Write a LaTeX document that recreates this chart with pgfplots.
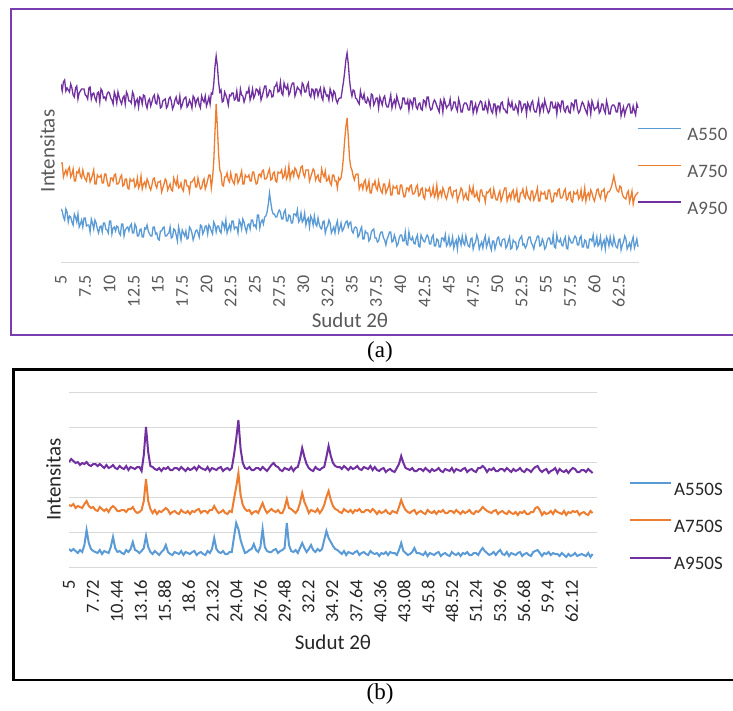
\documentclass[border=0pt]{standalone}
\usepackage{fontspec}
\setmainfont{Carlito}
\newfontfamily\capfont{Liberation Serif}
\usepackage{pgfplots}
\usepackage{pgfplotstable}
\pgfplotsset{compat=1.18}

\definecolor{serblue}{HTML}{5B9BD5}
\definecolor{serorange}{HTML}{ED7D31}
\definecolor{serpurple}{HTML}{7030A0}
\definecolor{framepurple}{HTML}{7A3DB0}
\definecolor{gridgray}{HTML}{D9D9D9}
\definecolor{labgray}{HTML}{595959}
\definecolor{labdark}{HTML}{262626}

% panel (a): A550, A750, A950
\pgfplotstableread{
x b o p
5.00 53 99 178
5.125 51 99 171
5.25 45 85 180
5.375 42 89 182
5.50 53 92 171
5.625 50 87 174
5.75 40 93 172
5.875 46 95 170
6.00 45 85 178
6.125 40 88 174
6.25 37 93 167
6.375 48 81 165
6.50 45 81 174
6.625 40 90 176
6.75 48 89 163
6.875 35 93 169
7.00 38 86 171
7.125 42 84 173
7.25 35 92 173
7.375 44 86 173
7.50 44 83 167
7.625 36 81 166
7.75 37 89 163
7.875 37 89 174
8.00 30 80 175
8.125 43 83 163
8.25 39 87 168
8.375 33 92 169
8.50 42 78 164
8.625 39 78 161
8.75 33 87 169
8.875 29 85 170
9.00 35 85 160
9.125 36 87 173
9.25 30 79 171
9.375 39 79 164
9.50 39 88 165
9.625 33 88 162
9.75 32 81 168
9.875 29 76 170
10.00 41 76 169
10.125 41 84 164
10.25 28 84 162
10.375 34 81 158
10.50 35 87 170
10.625 31 88 166
10.75 36 78 159
10.875 35 78 170
11.00 29 80 165
11.125 27 85 161
11.25 38 87 158
11.375 38 76 164
11.50 26 77 166
11.625 32 83 158
11.75 34 83 170
11.875 35 74 167
12.00 31 73 161
12.125 36 83 161
12.25 38 81 159
12.375 29 81 170
12.50 29 83 167
12.625 38 75 156
12.75 35 77 161
12.875 26 84 163
13.00 26 74 155
13.125 32 77 165
13.25 33 86 164
13.375 25 73 158
13.50 25 78 167
13.625 34 80 166
13.75 33 75 158
13.875 37 83 154
14.00 31 80 161
14.125 28 75 163
14.25 26 72 156
14.375 26 77 160
14.50 35 83 165
14.625 35 84 167
14.75 28 77 159
14.875 29 74 158
15.00 23 80 167
15.125 22 80 164
15.25 31 81 154
15.375 31 70 155
15.50 34 74 161
15.625 35 78 162
15.75 26 83 163
15.875 26 81 154
16.00 28 72 156
16.125 29 75 163
16.25 35 78 165
16.375 24 72 161
16.50 25 71 153
16.625 33 84 156
16.75 32 80 162
16.875 27 77 165
17.00 21 84 159
17.125 35 74 158
17.25 29 75 166
17.375 22 79 154
17.50 32 73 157
17.625 29 71 162
17.75 26 82 164
17.875 31 82 165
18.00 23 76 155
18.125 24 76 157
18.25 35 70 162
18.375 33 80 159
18.50 29 80 154
18.625 22 82 166
18.75 26 84 164
18.875 31 75 157
19.00 32 75 162
19.125 29 84 164
19.25 25 78 157
19.375 37 73 154
19.50 36 74 166
19.625 28 80 162
19.75 31 83 160
19.875 36 73 166
20.00 36 77 156
20.125 28 82 160
20.25 37 87 165
20.375 35 87 158
20.50 31 74 169
20.625 28 84 168
20.75 40 100 178
20.875 37 130 195
21.00 30 158 206
21.125 36 135 196
21.25 36 108 180
21.375 31 92 170
21.50 29 89 172
21.625 40 77 160
21.75 38 76 161
21.875 33 85 170
22.00 42 85 167
22.125 29 89 163
22.25 33 82 157
22.375 37 80 167
22.50 32 89 166
22.625 41 83 169
22.75 41 80 169
22.875 33 78 162
23.00 35 88 163
23.125 35 88 171
23.25 29 79 161
23.375 42 82 161
23.50 39 86 173
23.625 33 91 167
23.75 43 78 166
23.875 40 78 160
24.00 34 87 164
24.125 30 85 170
24.25 37 85 169
24.375 38 87 174
24.50 33 81 162
24.625 42 81 166
24.75 42 90 173
24.875 36 90 164
25.00 37 83 167
25.125 34 78 173
25.25 47 79 172
25.375 47 87 168
25.50 34 88 173
25.625 40 85 162
25.75 42 91 166
25.875 38 92 171
26.00 45 83 176
26.125 46 83 176
26.25 50 85 165
26.375 58 90 167
26.50 69 93 172
26.625 60 82 171
26.75 52 83 165
26.875 48 89 166
27.00 48 90 175
27.125 45 81 176
27.25 45 80 179
27.375 49 90 170
27.50 52 89 171
27.625 50 89 180
27.75 43 92 169
27.875 43 84 167
28.00 50 86 179
28.125 52 93 175
28.25 41 83 173
28.375 41 86 177
28.50 47 96 167
28.625 46 83 170
28.75 39 89 176
28.875 39 91 179
29.00 48 86 179
29.125 48 94 166
29.25 46 92 170
29.375 52 87 175
29.50 40 84 173
29.625 42 89 172
29.75 49 95 168
29.875 40 96 179
30.00 42 88 177
30.125 49 85 170
30.25 37 92 170
30.375 42 92 176
30.50 44 92 179
30.625 35 81 167
30.75 46 85 165
30.875 43 89 173
31.00 37 93 172
31.125 46 91 165
31.25 38 82 173
31.375 36 85 173
31.50 44 87 166
31.625 38 81 171
31.75 34 80 174
31.875 33 93 165
32.00 40 88 162
32.125 41 85 174
32.25 29 91 170
32.375 34 81 166
32.50 36 82 167
32.625 42 86 162
32.75 39 79 173
32.875 29 77 169
33.00 32 87 163
33.125 35 87 171
33.25 29 81 169
33.375 37 81 162
33.50 41 74 159
33.625 30 84 163
33.75 34 82 164
33.875 39 84 164
34.00 31 92 172
34.125 33 105 180
34.25 37 122 190
34.375 40 135 202
34.50 41 144 209
34.625 35 125 198
34.75 39 104 182
34.875 40 95 172
35.00 31 92 166
35.125 29 86 172
35.25 34 82 171
35.375 35 87 164
35.50 34 88 163
35.625 25 88 160
35.75 27 73 158
35.875 32 77 171
36.00 35 78 165
36.125 23 73 163
36.25 23 80 168
36.375 31 82 160
36.50 29 72 159
36.625 29 75 164
36.75 21 81 161
36.875 23 69 156
37.00 30 69 168
37.125 32 78 167
37.25 33 77 157
37.375 24 81 160
37.50 24 74 164
37.625 20 72 164
37.75 21 81 154
37.875 27 75 165
38.00 30 71 161
38.125 30 69 157
38.25 24 78 164
38.375 22 78 166
38.50 17 69 158
38.625 23 72 155
38.75 26 75 155
38.875 30 80 161
39.00 30 67 167
39.125 20 67 154
39.25 21 76 159
39.375 27 74 162
39.50 23 74 156
39.625 16 76 166
39.75 18 68 161
39.875 24 68 157
40.00 27 77 153
40.125 27 77 155
40.25 21 70 164
40.375 21 65 164
40.50 30 66 158
40.625 18 74 158
40.75 17 74 162
40.875 30 71 152
41.00 23 76 162
41.125 22 77 160
41.25 25 68 155
41.375 19 68 164
41.50 18 70 164
41.625 24 75 155
41.75 27 77 153
41.875 16 66 158
42.00 15 67 159
42.125 27 73 153
42.25 24 74 152
42.375 21 65 162
42.50 20 63 161
42.625 24 73 156
42.75 27 71 165
42.875 25 71 165
43.00 18 74 156
43.125 18 66 152
43.25 25 68 153
43.375 27 75 159
43.50 16 65 162
43.625 16 68 160
43.75 23 77 156
43.875 22 64 153
44.00 15 69 150
44.125 15 71 162
44.25 24 66 159
44.375 24 74 150
44.50 21 71 163
44.625 27 66 159
44.75 16 63 154
44.875 18 68 156
45.00 25 74 157
45.125 16 75 163
45.25 18 68 152
45.375 25 65 154
45.50 14 71 160
45.625 19 71 160
45.75 22 72 154
45.875 13 61 151
46.00 25 65 163
46.125 22 69 158
46.25 17 74 150
46.375 26 72 150
46.50 19 63 157
46.625 17 66 159
46.75 26 69 159
46.875 20 63 157
47.00 16 62 152
47.125 15 75 152
47.25 23 71 161
47.375 24 68 161
47.50 13 75 149
47.625 18 65 154
47.75 20 66 158
47.875 27 70 150
48.00 23 63 155
48.125 13 61 158
48.25 17 72 161
48.375 20 72 160
48.50 14 66 152
48.625 22 66 152
48.75 26 60 159
48.875 15 70 154
49.00 19 69 150
49.125 24 71 161
49.25 16 73 157
49.375 12 64 151
49.50 21 64 149
49.625 21 73 158
49.75 13 67 158
49.875 18 62 148
50.00 24 62 156
50.125 25 68 156
50.25 18 71 151
50.375 16 61 159
50.50 22 65 160
50.625 23 70 153
50.75 23 74 153
50.875 14 74 150
51.00 16 61 149
51.125 21 65 162
51.25 25 68 157
51.375 13 63 155
51.50 14 70 160
51.625 22 72 152
51.75 20 63 152
51.875 20 66 157
52.00 13 72 154
52.125 15 60 149
52.25 22 60 161
52.375 24 69 160
52.50 26 69 151
52.625 17 73 154
52.75 18 66 158
52.875 14 64 158
53.00 16 73 148
53.125 22 67 159
53.25 25 64 156
53.375 25 62 152
53.50 19 71 159
53.625 17 71 161
53.75 13 62 153
53.875 19 65 150
54.00 22 69 150
54.125 26 74 156
54.25 26 61 162
54.375 16 61 149
54.50 17 70 155
54.625 23 68 158
54.75 20 68 152
54.875 13 70 162
55.00 15 63 157
55.125 21 63 153
55.25 24 72 149
55.375 24 72 151
55.50 18 65 160
55.625 18 60 160
55.75 27 61 154
55.875 15 69 154
56.00 14 69 158
56.125 27 66 148
56.25 21 72 159
56.375 20 73 157
56.50 23 64 152
56.625 17 64 161
56.75 16 66 161
56.875 22 71 152
57.00 25 73 150
57.125 14 62 155
57.25 13 63 156
57.375 25 69 150
57.50 22 70 149
57.625 19 61 159
57.75 19 60 158
57.875 23 70 153
58.00 26 68 162
58.125 24 68 162
58.25 17 71 153
58.375 17 63 149
58.50 24 65 151
58.625 26 72 156
58.75 15 62 160
58.875 15 65 158
59.00 22 74 154
59.125 21 61 151
59.25 14 67 148
59.375 14 69 160
59.50 23 64 157
59.625 23 72 148
59.75 21 69 161
59.875 27 64 157
60.00 16 61 152
60.125 18 66 154
60.25 25 72 154
60.375 16 73 160
60.50 18 67 149
60.625 25 64 151
60.75 14 71 158
60.875 19 71 158
61.00 22 73 152
61.125 13 62 149
61.25 25 66 161
61.375 22 70 156
61.50 16 70 148
61.625 25 72 148
61.75 18 75 155
61.875 16 80 157
62.00 25 86 157
62.125 19 80 155
62.25 15 74 150
62.375 14 71 150
62.50 22 70 159
62.625 23 76 159
62.75 12 75 146
62.875 17 68 151
63.00 20 65 155
63.125 26 64 147
63.25 23 63 152
63.375 13 69 155
63.50 16 71 158
63.625 19 60 158
63.75 13 65 149
63.875 21 71 149
64.00 25 58 156
64.125 14 64 151
64.25 18 67 147
64.375 23 68 158
64.50 15 70 154
}\tableA

% panel (b): A550S, A750S, A950S
\pgfplotstableread{
x b o p
5.00 18 62 105
5.25 16 61 108
5.50 18 63 106
5.75 16 59 104
6.00 14 61 105
6.25 17 60 102
6.50 15 59 104
6.75 22 63 103
7.00 37 66 105
7.25 24 61 102
7.50 18 59 101
7.75 16 60 103
8.00 15 57 103
8.25 14 56 101
8.50 17 60 103
8.75 13 58 101
9.00 16 56 99
9.25 15 58 102
9.50 14 55 99
9.75 20 59 100
10.00 30 61 102
10.25 19 59 99
10.50 15 56 98
10.75 16 56 101
11.00 14 57 99
11.25 13 57 98
11.50 17 55 101
11.75 15 58 97
12.00 18 58 100
12.25 25 60 99
12.50 17 56 98
12.75 16 54 100
13.00 14 55 100
13.25 16 57 96
13.50 19 66 112
13.75 31 88 140
14.00 20 66 115
14.25 15 58 101
14.50 13 54 100
14.75 16 57 98
15.00 14 53 97
15.25 12 56 99
15.50 15 55 96
15.75 17 57 99
16.00 22 59 98
16.25 15 57 100
16.50 13 53 97
16.75 12 55 97
17.00 15 56 99
17.25 14 54 99
17.50 13 53 97
17.75 16 57 100
18.00 12 55 98
18.25 15 54 96
18.50 14 56 99
18.75 13 53 97
19.00 15 56 98
19.25 16 55 100
19.50 12 57 97
19.75 14 58 101
20.00 15 54 99
20.25 13 56 98
20.50 12 56 97
20.75 16 54 100
21.00 14 57 96
21.25 18 57 99
21.50 29 61 98
21.75 18 57 97
22.00 15 54 99
22.25 14 55 100
22.50 16 57 96
22.75 13 54 98
23.00 13 53 99
23.25 15 56 97
23.50 15 55 99
23.75 30 68 112
24.00 44 80 128
24.25 38 94 147
24.50 27 72 118
24.75 20 62 104
25.00 14 58 99
25.25 15 56 98
25.50 17 57 100
25.75 18 53 97
26.00 23 55 97
26.25 17 56 99
26.50 15 54 99
26.75 20 59 97
27.00 38 64 100
27.25 20 58 98
27.50 16 54 96
27.75 15 56 99
28.00 15 58 102
28.25 17 56 104
28.50 18 55 101
28.75 14 57 100
29.00 16 54 97
29.25 17 54 96
29.50 19 59 99
29.75 44 68 98
30.00 22 59 97
30.25 16 58 100
30.50 15 56 96
30.75 17 54 99
31.00 14 57 100
31.25 19 64 108
31.50 24 74 119
31.75 19 65 110
32.00 15 60 103
32.25 18 54 99
32.50 22 57 97
32.75 17 56 96
33.00 15 55 100
33.25 18 58 98
33.50 16 54 97
33.75 18 57 99
34.00 27 62 100
34.25 36 70 110
34.50 29 76 121
34.75 25 67 111
35.00 21 61 104
35.25 18 58 101
35.50 17 57 100
35.75 15 55 100
36.00 13 54 98
36.25 16 58 101
36.50 12 56 99
36.75 15 55 97
37.00 14 57 100
37.25 13 54 98
37.50 15 57 99
37.75 16 56 101
38.00 12 58 98
38.25 14 55 97
38.50 15 55 100
38.75 13 57 99
39.00 12 57 98
39.25 16 55 101
39.50 14 58 97
39.75 13 56 100
40.00 14 53 97
40.25 11 56 96
40.50 14 54 98
40.75 13 55 99
41.00 15 57 95
41.25 12 54 97
41.50 15 53 98
41.75 14 56 96
42.00 14 55 95
42.25 12 54 99
42.50 17 60 103
42.75 24 67 111
43.00 16 61 104
43.25 14 57 99
43.50 12 55 98
43.75 13 54 97
44.00 15 56 99
44.25 19 57 96
44.50 14 53 96
44.75 14 55 98
45.00 13 56 98
45.25 12 54 96
45.50 15 53 99
45.75 11 57 97
46.00 14 55 95
46.25 13 54 98
46.50 12 56 96
46.75 14 53 97
47.00 15 56 99
47.25 11 55 96
47.50 13 57 95
47.75 14 54 98
48.00 12 54 97
48.25 11 56 96
48.50 15 56 99
48.75 13 54 95
49.00 12 57 98
49.25 14 55 97
49.50 11 53 96
49.75 14 56 98
50.00 13 54 99
50.25 15 55 95
50.50 12 57 97
50.75 12 54 98
51.00 14 53 96
51.25 14 56 95
51.50 12 55 99
51.75 16 57 99
52.00 19 60 101
52.25 16 58 99
52.50 14 56 95
52.75 12 55 98
53.00 13 54 97
53.25 15 56 99
53.50 12 57 96
53.75 15 53 96
54.00 17 55 98
54.25 13 56 98
54.50 12 54 96
54.75 15 53 99
55.00 11 56 97
55.25 14 54 95
55.50 13 53 98
55.75 12 55 96
56.00 14 52 97
56.25 15 55 99
56.50 11 54 96
56.75 13 56 95
57.00 14 53 98
57.25 12 53 97
57.50 11 55 95
57.75 15 55 98
58.00 16 59 100
58.25 17 60 101
58.50 14 57 97
58.75 11 52 95
59.00 14 55 97
59.25 13 53 98
59.50 15 54 94
59.75 12 56 96
60.00 14 53 97
60.25 13 57 99
60.50 13 55 94
60.75 11 54 98
61.00 14 53 96
61.25 12 56 95
61.50 10 52 97
61.75 13 55 94
62.00 11 54 97
62.25 12 56 99
62.50 14 55 98
62.75 11 56 95
63.00 12 52 95
63.25 13 54 97
63.50 12 55 97
63.75 11 53 95
64.00 14 52 98
64.25 10 56 96
64.50 13 54 94
}\tableB

\begin{document}
\begin{tikzpicture}
\useasboundingbox (0pt,0pt) rectangle (733pt,-710pt);

% ---------- (a)
\begin{axis}[
  at={(61pt,-262pt)}, anchor=south west,
  scale only axis, width=578pt, height=222pt,
  xmin=5, xmax=64.6, ymin=0, ymax=222,
  axis lines*=left,
  x axis line style={-, draw=gridgray, line width=1pt},
  y axis line style={draw=none},
  ytick=\empty,
  xtick={5,7.5,...,62.5},
  xticklabels={5,7.5,10,12.5,15,17.5,20,22.5,25,27.5,30,32.5,35,37.5,40,42.5,45,47.5,50,52.5,55,57.5,60,62.5},
  xtick align=outside, major tick length=13pt, xtick style={draw=none},
  xticklabel style={rotate=90, anchor=east, inner sep=0pt, font=\fontsize{18}{18}\selectfont, text=labgray},
  xlabel={Sudut 2θ},
  xlabel style={at={(axis description cs:0.5,-0.297)}, anchor=base, inner sep=0pt, font=\fontsize{21}{21}\selectfont, text=labgray},
  ylabel={Intensitas},
  ylabel style={at={(axis description cs:-0.0104,0.5)}, anchor=south, inner sep=0pt, font=\fontsize{21}{21}\selectfont, text=labgray},
  legend style={draw=none, fill=none, at={(axis description cs:0.9965,0.41)}, anchor=west,
    inner sep=0pt, row sep=24pt, column sep=6pt, font=\fontsize{19}{19}\selectfont, text=labgray,
    nodes={inner sep=0pt, text height=12.5pt, text depth=0pt}},
  legend cell align=left,
  legend image code/.code={\draw[#1, line width=1.3pt] (0pt,6pt) -- (43pt,6pt);},
]
\addplot[serblue, line width=1.3pt] table[x=x, y=b] {\tableA};
\addplot[serorange, line width=1.3pt] table[x=x, y=o] {\tableA};
\addplot[serpurple, line width=1.3pt] table[x=x, y=p] {\tableA};
\legend{A550, A750, A950}
\end{axis}

% ---------- (b)
\begin{axis}[
  at={(69pt,-567pt)}, anchor=south west,
  scale only axis, width=528pt, height=175pt,
  xmin=5, xmax=65, ymin=0, ymax=175,
  axis lines*=left,
  x axis line style={-, draw=gridgray, line width=1pt},
  y axis line style={draw=none},
  ytick={0,35,70,105,140,175}, yticklabels={},
  ymajorgrids, grid style={gridgray, line width=1pt},
  ytick style={draw=none},
  xtick={5,7.72,10.44,13.16,15.88,18.6,21.32,24.04,26.76,29.48,32.2,34.92,37.64,40.36,43.08,45.8,48.52,51.24,53.96,56.68,59.4,62.12},
  xticklabels={5,7.72,10.44,13.16,15.88,18.6,21.32,24.04,26.76,29.48,32.2,34.92,37.64,40.36,43.08,45.8,48.52,51.24,53.96,56.68,59.4,62.12},
  xtick align=outside, major tick length=13pt, xtick style={draw=none},
  xticklabel style={rotate=90, anchor=east, inner sep=0pt, font=\fontsize{18.5}{18.5}\selectfont, text=labdark},
  xlabel={Sudut 2θ},
  xlabel style={at={(axis description cs:0.5,-0.474)}, anchor=base, inner sep=0pt, font=\fontsize{21}{21}\selectfont, text=labdark},
  ylabel={Intensitas},
  ylabel style={at={(axis description cs:-0.015,0.5)}, anchor=south, inner sep=0pt, font=\fontsize{21}{21}\selectfont, text=labdark},
  legend style={draw=none, fill=none, at={(axis description cs:1.0606,0.2343)}, anchor=west,
    inner sep=0pt, row sep=24pt, column sep=2pt, font=\fontsize{19}{19}\selectfont, text=labdark,
    nodes={inner sep=0pt, text height=12.5pt, text depth=0pt}},
  legend cell align=left,
  legend image code/.code={\draw[#1, line width=2pt] (0pt,6pt) -- (41pt,6pt);},
]
\addplot[serblue, line width=2pt] table[x=x, y=b] {\tableB};
\addplot[serorange, line width=2pt] table[x=x, y=o] {\tableB};
\addplot[serpurple, line width=2pt] table[x=x, y=p] {\tableB};
\legend{A550S, A750S, A950S}
\end{axis}

% frames and captions
\draw[framepurple, line width=2pt] (11pt,-9pt) rectangle (745pt,-335pt);
\draw[black, line width=2.5pt] (13.5pt,-369.5pt) rectangle (745pt,-680pt);
\node[font=\capfont\fontsize{23}{23}\selectfont, inner sep=0pt] at (380pt,-352pt) {(a)};
\node[font=\capfont\fontsize{23}{23}\selectfont, inner sep=0pt] at (380pt,-694pt) {(b)};
\end{tikzpicture}
\end{document}
